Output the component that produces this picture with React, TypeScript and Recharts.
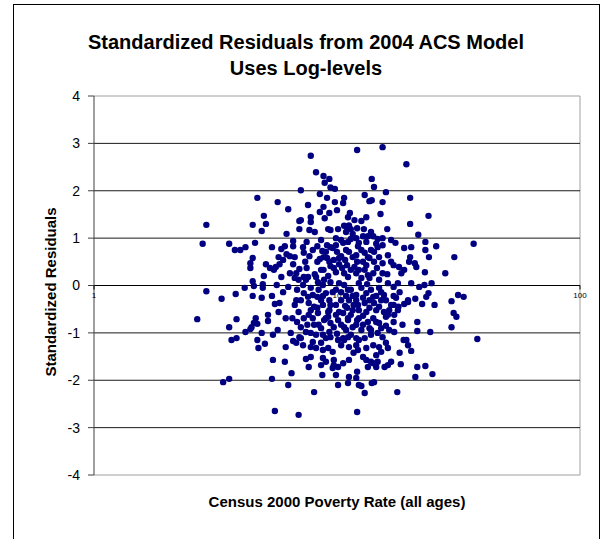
import React from 'react';
import { ScatterChart, Scatter, XAxis, YAxis, ReferenceLine, ReferenceDot } from 'recharts';

// Excel-style scatter: residuals vs poverty rate (log x axis, 1..100)

const residualTicks = [-4, -3, -2, -1, 0, 1, 2, 3, 4];
const innerGridValues = [-3, -2, -1, 1, 2, 3];
const rateTicks = [1, 10, 100];

// [poverty rate, standardized residual]
const upperBand: [number, number][] = [
  [7.8, 2.74], [8.2, 2.39], [8.8, 2.31], [8.9, 2.17], [9.3, 2.25], [9.4, 2.07], [9.8, 2.04], [7.1, 2.01],
  [8.5, 1.93], [9.1, 1.85], [4.7, 1.85], [5.7, 1.76], [7.6, 1.7], [6.3, 1.61], [8.8, 1.66], [8.5, 1.55],
  [9.3, 1.53], [5.0, 1.47], [7.0, 1.36], [7.1, 1.38], [7.8, 1.44], [7.8, 1.34], [8.9, 1.42], [5.1, 1.3],
  [2.9, 1.28], [4.5, 1.28], [4.9, 1.15], [7.0, 1.19], [7.7, 1.17], [8.1, 1.13], [9.2, 1.19], [6.2, 1.09],
  [12.1, 2.86], [15.4, 2.92], [19.3, 2.56], [13.9, 2.25], [14.2, 2.08], [15.9, 1.97], [13.0, 1.91], [9.8, 1.76],
  [10.6, 1.74], [10.7, 1.85], [13.9, 1.8], [13.6, 1.78], [15.4, 1.76], [20.0, 1.85], [10.0, 1.59], [11.3, 1.53],
  [15.1, 1.51], [23.8, 1.47], [11.8, 1.38], [12.6, 1.36], [13.2, 1.44], [20.0, 1.3], [10.7, 1.26], [11.0, 1.23],
  [11.4, 1.19], [12.1, 1.21], [12.9, 1.19], [13.8, 1.13], [16.1, 1.19], [9.4, 1.17], [9.9, 1.0], [10.4, 0.96],
  [11.1, 0.92], [11.4, 0.98], [12.0, 1.0], [12.8, 1.04], [13.4, 1.04], [14.1, 1.04], [14.7, 0.98], [15.4, 1.0],
  [16.7, 0.96], [17.4, 0.9], [21.6, 1.07], [23.1, 0.92], [25.6, 0.83], [36.5, 0.88], [2.8, 0.88], [3.6, 0.88],
  [3.8, 0.75], [4.0, 0.75], [4.2, 0.81], [4.6, 0.9], [6.6, 0.94], [6.6, 0.83], [5.4, 0.81], [5.9, 0.77],
  [6.1, 0.83], [11.2, 1.27], [10.9, 1.13], [11.6, 1.09], [12.3, 0.9], [13.2, 0.92], [14.5, 0.88], [11.1, 1.44],
  [10.1, 1.19],
];

const middleBand: [number, number][] = [
  [4.5, 0.58], [4.4, 0.47], [4.4, 0.37], [6.2, 0.66], [6.4, 0.62], [6.7, 0.6], [7.3, 0.69], [7.7, 0.62],
  [8.5, 0.56], [8.7, 0.73], [5.1, 0.45], [5.8, 0.45], [5.6, 0.39], [5.3, 0.37], [5.5, 0.33], [6.6, 0.45],
  [6.8, 0.26], [7.0, 0.35], [7.5, 0.37], [8.1, 0.24], [8.6, 0.33], [8.8, 0.33], [5.0, 0.2], [5.9, 0.18],
  [6.4, 0.26], [7.3, 0.18], [7.6, 0.18], [8.2, 0.18], [9.2, 0.2], [30.4, 0.6], [18.9, 0.79], [20.2, 0.81],
  [23.1, 0.75], [23.9, 0.6], [20.0, 0.6], [20.9, 0.47], [21.2, 0.39], [23.0, 0.28], [27.9, 0.26], [12.6, 0.75],
  [13.4, 0.6], [14.2, 0.71], [14.7, 0.81], [15.4, 0.85], [16.2, 0.64], [16.7, 0.5], [18.0, 0.39], [18.4, 0.26],
  [11.8, 0.39], [13.0, 0.33], [14.1, 0.26], [15.4, 0.26], [10.7, 0.26], [11.1, 0.18], [9.6, 0.79], [10.0, 0.71],
  [10.4, 0.62], [9.7, 0.54], [10.2, 0.45], [10.8, 0.54], [11.2, 0.71], [11.6, 0.6], [12.1, 0.5], [10.5, 0.37],
  [9.9, 0.28], [9.4, 0.41], [9.1, 0.58], [12.2, 0.83], [13.0, 0.69], [13.6, 0.58], [14.2, 0.5], [14.9, 0.6],
  [15.4, 0.47], [17.1, 0.43], [18.9, 0.33], [19.8, 0.5], [12.0, 0.26], [12.6, 0.16], [13.4, 0.22], [14.9, 0.12],
  [16.2, 0.05], [17.1, -0.03], [5.75, 0.6], [6.0, 0.54], [9.4, 0.81], [8.8, 0.6], [6.95, 0.12], [8.35, 0.07],
  [8.85, 0.12], [9.4, 0.07], [10.2, 0.05], [10.7, 0.01], [6.7, 0.16], [12.3, 0.05], [13.3, 0.03], [17.8, 0.05],
  [20.2, 0.05], [22.9, 0.01], [24.5, 0.05], [21.8, -0.03], [9.1, 0.85], [10.9, 0.75], [12.8, 0.5], [11.4, 0.33],
  [13.6, 0.16], [14.6, 0.37], [16.1, 0.24], [8.3, 0.5], [7.95, 0.75], [7.4, 0.5], [8.75, 0.01], [2.9, -0.12],
  [3.35, -0.28], [3.83, -0.18], [4.17, -0.05], [4.5, 0.09], [4.55, -0.01], [4.95, 0.03], [4.95, -0.05], [4.5, -0.22],
  [4.9, -0.26], [5.4, -0.22], [5.65, 0.01], [7.45, 0.12], [7.8, -0.05], [8.4, -0.09], [6.85, -0.09], [6.0, -0.14],
  [6.3, -0.03],
];

const lowerBand: [number, number][] = [
  [6.7, -0.41], [6.8, -0.31], [6.95, -0.56], [7.1, -0.31], [7.3, -0.16], [7.6, -0.24], [7.65, -0.37], [7.8, -0.52],
  [8.05, -0.45], [8.35, -0.58], [8.6, -0.31], [8.85, -0.73], [9.2, -0.56], [9.2, -0.66], [9.4, -0.79], [9.7, -0.88],
  [10.1, -0.73], [10.6, -0.58], [10.7, -0.88], [11.1, -0.73], [5.45, -1.04], [7.1, -1.11], [7.8, -1.3], [8.6, -1.21],
  [9.0, -1.11], [9.4, -1.09], [10.1, -1.15], [10.6, -1.11], [11.1, -1.09], [7.8, -1.51], [9.0, -1.61], [9.7, -1.57],
  [10.1, -1.72], [10.6, -1.64], [9.6, -1.74], [9.9, -1.89], [17.1, -0.41], [17.9, -0.45], [19.6, -0.35], [15.6, -0.56],
  [15.9, -0.66], [14.9, -0.79], [15.2, -0.9], [16.4, -0.94], [17.2, -0.98], [12.0, -1.11], [13.0, -1.11], [13.8, -1.04],
  [14.7, -1.0], [15.4, -1.09], [15.9, -1.21], [14.9, -1.3], [15.2, -1.4], [14.5, -1.47], [11.2, -1.3], [11.7, -1.42],
  [12.2, -1.36], [12.8, -1.51], [13.2, -1.57], [14.1, -1.64], [14.7, -1.61], [11.2, -1.57], [13.4, -1.72], [11.2, -1.93],
  [11.4, -0.09], [12.0, -0.2], [12.6, -0.05], [13.2, -0.16], [13.8, -0.09], [14.5, -0.22], [11.2, -0.31], [11.7, -0.41],
  [12.3, -0.52], [13.0, -0.37], [13.6, -0.47], [14.2, -0.37], [11.4, -0.62], [12.1, -0.73], [12.8, -0.64], [13.4, -0.77],
  [14.1, -0.69], [11.6, -0.88], [12.6, -0.94], [11.0, -0.47], [15.2, -0.14], [15.9, -0.31], [14.9, -0.45], [37.8, -1.13],
  [31.5, -0.2], [33.2, -0.24], [29.6, -0.33], [30.2, -0.58], [31.0, -0.66], [29.6, -0.88], [25.2, -0.41], [23.8, -0.16],
  [23.3, -0.24], [22.4, -0.39], [21.0, -0.28], [21.4, -0.77], [21.4, -0.96], [24.2, -0.98], [18.6, -0.83], [19.6, -0.31],
  [18.9, -0.39], [17.8, -0.52], [17.2, -0.62], [18.1, -0.14], [18.8, -1.15], [19.3, -1.15], [19.6, -1.26], [20.2, -1.38],
  [18.1, -1.42], [18.3, -1.66], [16.7, -1.61], [16.2, -1.68], [15.7, -1.72], [21.4, -1.72], [23.1, -1.7], [24.7, -1.87],
  [21.0, -1.93], [17.7, -2.25], [14.2, -2.04], [13.9, -2.06], [13.0, -2.27], [12.1, -2.67], [10.1, -2.1], [11.1, -2.06],
  [12.0, -1.95], [12.1, -1.82], [12.3, -2.1], [12.6, -2.12], [9.7, -1.68], [14.5, -1.72], [13.8, -1.61], [16.2, -1.32],
  [5.55, -0.39], [5.8, -0.37], [5.75, -0.56], [2.66, -0.71], [3.6, -0.88], [3.86, -0.71], [4.63, -0.69], [4.55, -0.79],
  [4.7, -0.81], [4.45, -0.88], [4.4, -0.92], [4.2, -0.98], [5.2, -0.62], [5.2, -0.75], [5.7, -0.94], [4.9, -1.0],
  [4.7, -1.15], [4.75, -1.32], [5.05, -1.23], [3.68, -1.15], [3.86, -1.11], [6.15, -1.3], [6.45, -1.0], [6.6, -1.17],
  [5.45, -1.57], [6.1, -1.61], [6.5, -1.85], [3.4, -2.04], [3.6, -1.97], [5.4, -1.97], [6.3, -2.1], [8.05, -2.25],
  [5.55, -2.65], [6.95, -2.73], [8.7, -1.89], [7.45, -1.55], [7.65, -1.72], [8.6, -1.68], [8.75, -1.53], [6.85, -0.77],
  [7.0, -1.09], [6.8, -1.21], [7.95, -1.19], [8.2, -1.32], [8.75, -1.36], [9.2, -1.32], [9.0, -0.16], [9.3, -0.31],
  [8.75, -0.41], [6.55, -0.69], [7.55, -0.83], [7.1, -0.88], [7.95, -0.69], [8.4, -0.83], [8.2, -1.04], [8.75, -1.04],
  [7.45, -0.98], [6.15, -0.69], [17.1, -0.22], [16.4, -0.52], [10.4, -0.14], [10.9, -0.22], [9.9, -0.41], [10.2, -0.56],
  [9.6, -0.14], [10.8, -0.43], [12.0, -0.31], [12.8, -0.83], [13.8, -0.94], [10.9, -0.94], [10.4, -1.26], [12.0, -1.26],
  [13.2, -1.32], [14.1, -1.26], [9.6, -1.4], [12.3, -0.69], [15.9, -0.85], [17.1, -0.77], [15.2, -0.31], [14.1, -0.24],
  [10.4, -0.83], [9.3, -0.52], [8.3, -0.24], [7.65, -0.62], [7.25, -1.26],
];

// extra points where the cloud is densest
const coreCluster: [number, number][] = [
  [9.9, 0.85], [10.6, 0.9], [10.2, 0.58], [11.0, 0.43], [9.7, 0.37], [9.3, 0.5], [12.0, 0.64], [13.2, 0.43],
  [12.3, 0.33], [13.8, 0.75], [11.1, -0.09], [11.6, -0.22], [12.8, -0.26], [13.6, -0.31], [12.2, -0.41], [13.2, -0.56],
  [14.5, -0.52], [11.6, -0.52], [11.1, -0.69], [12.0, -0.83], [13.6, -0.9], [14.5, -0.77], [10.4, -0.31], [9.9, -0.62],
  [9.4, -0.41], [9.0, -0.69], [8.6, -0.9], [9.3, -0.98], [10.0, -1.02], [10.7, -1.15], [11.4, -1.04], [12.3, -1.15],
  [8.05, -0.83], [7.8, -1.0], [7.3, -0.69], [8.3, -0.47], [8.75, -0.22], [7.95, -0.2], [7.25, 0.01], [9.9, -0.09],
  [14.9, -0.05], [15.6, -0.2], [16.7, -0.41], [16.2, -0.62], [17.5, -0.26], [8.6, 0.96], [8.3, 0.83], [7.5, 0.92],
  [7.25, 0.81], [9.0, 0.71],
];

const points = [...upperBand, ...middleBand, ...lowerBand, ...coreCluster].map(([rate, residual]) => ({
  rate,
  residual,
}));

const FONT = "'Liberation Sans', Arial, sans-serif";

const Marker = (props: any) => {
  const { cx, cy } = props;
  if (cx == null || cy == null) return null;
  return <circle cx={cx} cy={cy} r={3.2} fill="#000080" />;
};

// small tick + label sitting on the zero line
const rateTickShape = (label: string) => (props: any) => {
  const { cx, cy } = props;
  return (
    <g>
      <line x1={cx} x2={cx} y1={cy} y2={cy + 4} stroke="#000" />
      <text x={cx} y={cy + 12} textAnchor="middle" fontSize={8} fontFamily={FONT} fill="#000">
        {label}
      </text>
    </g>
  );
};

export default function App() {
  return (
    <div
      style={{
        position: 'absolute',
        left: 0,
        top: 0,
        width: 604,
        height: 539,
        overflow: 'hidden',
        background: '#fff',
        fontFamily: FONT,
      }}
    >
      {/* chart frame */}
      <div
        style={{
          position: 'absolute',
          left: 13,
          top: 4,
          width: 585,
          height: 600,
          border: '1px solid #000',
        }}
      />

      <div
        style={{
          position: 'absolute',
          left: 13,
          top: 29,
          width: 586,
          textAlign: 'center',
          fontWeight: 'bold',
          fontSize: 20,
          lineHeight: '26px',
        }}
      >
        <div>Standardized Residuals from 2004 ACS Model</div>
        <div>Uses Log-levels</div>
      </div>

      <div style={{ position: 'absolute', left: 0, top: 0 }}>
        <ScatterChart width={604} height={539} margin={{ top: 96, right: 24, bottom: 64, left: 54 }}>
          <XAxis type="number" dataKey="rate" scale="log" domain={[1, 100]} ticks={rateTicks} hide allowDataOverflow />
          <YAxis
            type="number"
            dataKey="residual"
            domain={[-4, 4]}
            ticks={residualTicks}
            width={40}
            interval={0}
            axisLine={{ stroke: '#404040' }}
            tickLine={{ stroke: '#404040' }}
            tickSize={6}
            tickMargin={8}
            tick={{ fontSize: 14, fill: '#000', fontFamily: FONT }}
          />
          <ReferenceLine y={4} stroke="#a0a0a0" />
          <ReferenceLine y={-4} stroke="#a0a0a0" />
          <ReferenceLine x={100} stroke="#a0a0a0" />
          {innerGridValues.map((v) => (
            <ReferenceLine key={v} y={v} stroke="#1a1a1a" />
          ))}
          <ReferenceLine y={0} stroke="#000" />
          {rateTicks.map((t) => (
            <ReferenceDot key={t} x={t} y={0} r={0} ifOverflow="visible" shape={rateTickShape(String(t))} />
          ))}
          <Scatter data={points} shape={<Marker />} isAnimationActive={false} />
        </ScatterChart>
      </div>

      <div
        style={{
          position: 'absolute',
          left: 50,
          top: 292,
          transform: 'translate(-50%, -50%) rotate(-90deg)',
          whiteSpace: 'nowrap',
          fontWeight: 'bold',
          fontSize: 15,
        }}
      >
        Standardized Residuals
      </div>

      <div
        style={{
          position: 'absolute',
          left: 94,
          width: 486,
          top: 493,
          textAlign: 'center',
          fontWeight: 'bold',
          fontSize: 15,
        }}
      >
        Census 2000 Poverty Rate (all ages)
      </div>
    </div>
  );
}
